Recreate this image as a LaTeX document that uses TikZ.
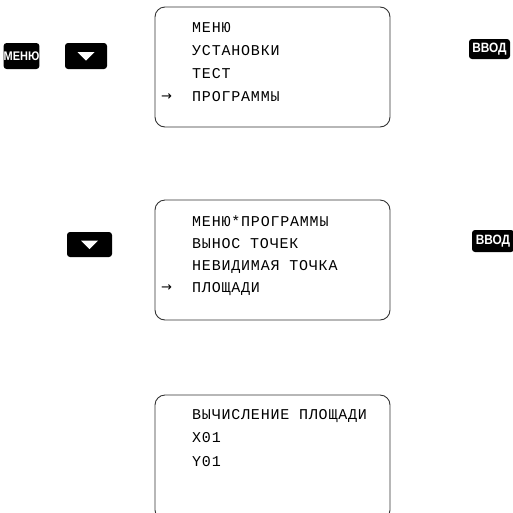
\documentclass[tikz,border=0pt]{standalone}
\usepackage{fontspec}
\newfontfamily\lcdfont[LetterSpace=5.3]{Liberation Mono}
\newfontfamily\arrfont{DejaVu Sans}
\newfontfamily\keyfont[FakeStretch=0.88]{Liberation Sans}
\begin{document}
\begin{tikzpicture}[x=1pt,y=-1pt]
  \tikzstyle{screen}=[draw=black!80,line width=.9pt,rounded corners=10pt,minimum width=235pt,inner sep=0pt]
  \tikzstyle{lcdline}=[anchor=base west,inner sep=0pt,font=\lcdfont\fontsize{15}{15}\selectfont]
  \tikzstyle{pointer}=[anchor=base west,inner sep=0pt,font=\arrfont\fontsize{13}{13}\selectfont]
  \tikzstyle{keybtn}=[fill=black,rounded corners=3pt,text=white,inner sep=0pt,font=\keyfont\bfseries\fontsize{13.5}{13.5}\selectfont]
  \tikzstyle{tri}=[fill=white]
  \clip (0,0) rectangle (513,512);
  % screens
  \node[screen,minimum height=120pt] (scr1) at (272.5,67) {};
  \node[screen,minimum height=120pt] (scr2) at (272.5,260) {};
  \node[screen,minimum height=125pt] (scr3) at (272.5,457.5) {};
  % screen 1
  \node[lcdline] (s1a) at (192,32) {МЕНЮ};
  \node[lcdline] (s1b) at (192,55) {УСТАНОВКИ};
  \node[lcdline] (s1c) at (192,78) {ТЕСТ};
  \node[lcdline] (s1d) at (192,101) {ПРОГРАММЫ};
  \node[pointer] (s1p) at (161,100) {→};
  % screen 2
  \node[lcdline] (s2a) at (192,226) {МЕНЮ*ПРОГРАММЫ};
  \node[lcdline] (s2b) at (192,248) {ВЫНОС ТОЧЕК};
  \node[lcdline] (s2c) at (192,270) {НЕВИДИМАЯ ТОЧКА};
  \node[lcdline] (s2d) at (192,292) {ПЛОЩАДИ};
  \node[pointer] (s2p) at (161,291) {→};
  % screen 3
  \node[lcdline] (s3a) at (192,419) {ВЫЧИСЛЕНИЕ ПЛОЩАДИ};
  \node[lcdline] (s3b) at (192,442) {X01};
  \node[lcdline] (s3c) at (192,466) {Y01};
  % keys
  \node[keybtn,minimum width=34pt,minimum height=26pt,font=\keyfont\bfseries\fontsize{12.5}{12.5}\selectfont] (menu) at (21.5,56) {МЕНЮ};
  \node[keybtn,minimum width=42pt,minimum height=26pt] (dn1) at (86,56) {};
  \node[keybtn,minimum width=41pt,minimum height=20pt] (ent1) at (489.5,49) {ВВОД};
  \node[keybtn,minimum width=45pt,minimum height=25pt] (dn2) at (89.5,244.5) {};
  \node[keybtn,minimum width=42pt,minimum height=22pt] (ent2) at (493,241) {ВВОД};
  \foreach \k in {dn1,dn2}{
    \fill[tri] ([shift={(-8.5,-4)}]\k.center) -- ([shift={(8.5,-4)}]\k.center) -- ([shift={(0,4.5)}]\k.center) -- cycle;
    }
\end{tikzpicture}
\end{document}
